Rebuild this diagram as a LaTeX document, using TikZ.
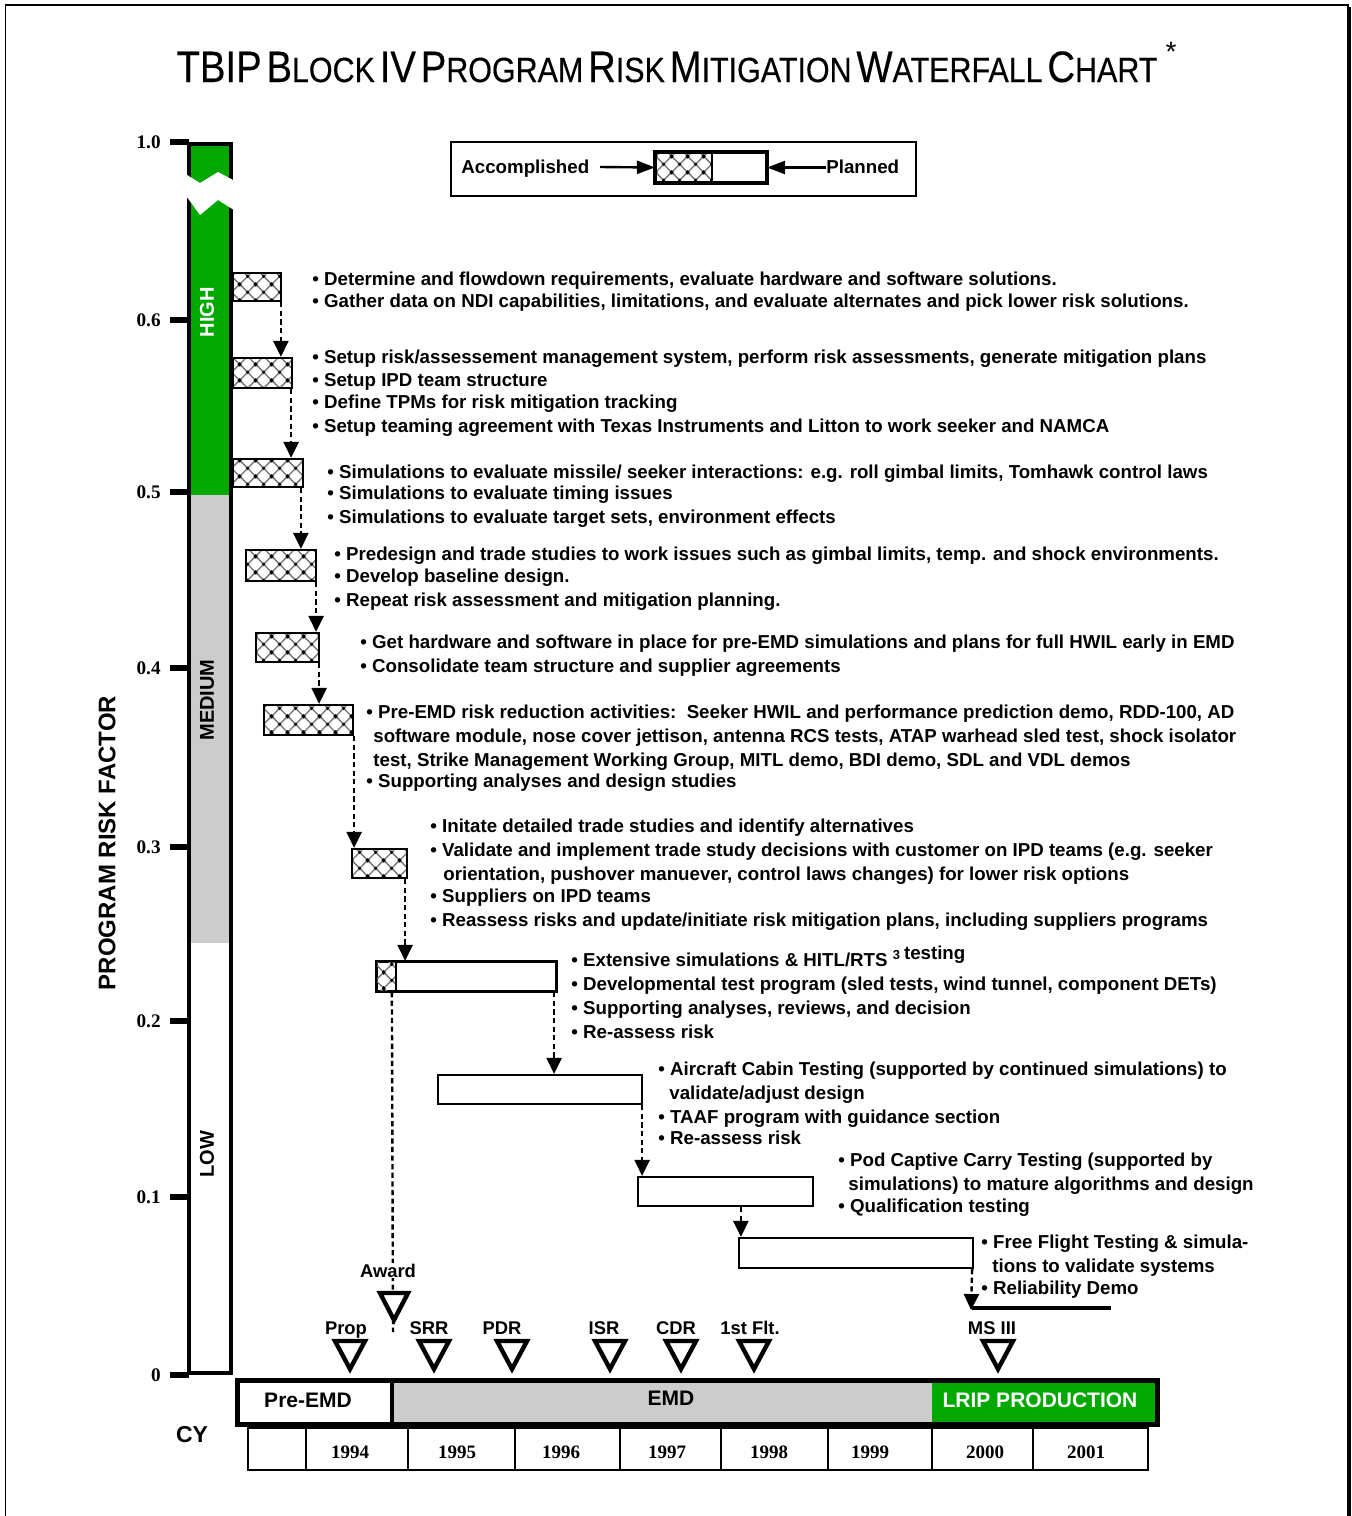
\documentclass[tikz,border=0pt]{standalone}
\usepackage{fontspec}
\setmainfont{Liberation Sans}
\newfontfamily\numfont{Liberation Serif}
\newfontfamily\headfont[FakeStretch=0.87,FakeBold=0.3]{Liberation Sans}
\usetikzlibrary{arrows.meta,patterns.meta}

\definecolor{riskgreen}{RGB}{0,168,0}
\definecolor{riskgray}{RGB}{204,204,204}

% diagonal diamond hatch used for accomplished work
\tikzdeclarepattern{
  name=diamondhatch,
  type=colored,
  bottom left={(0pt,0pt)},
  top right={(8pt,8pt)},
  tile size={(8pt,8pt)},
  code={
    \draw[black!55, line width=0.7pt] (0pt,0pt) -- (8pt,8pt) (0pt,8pt) -- (8pt,0pt);
    \fill[black] (4pt,4pt) circle (0.9pt);
    \fill[black] (0pt,0pt) circle (0.9pt) (8pt,0pt) circle (0.9pt)
                 (0pt,8pt) circle (0.9pt) (8pt,8pt) circle (0.9pt);
  }
}

% small-capital word for the heading
\newcommand{\hsc}[2]{{\fontsize{22}{22}\selectfont #1}{\fontsize{17.5}{17.5}\selectfont #2}}

% waterfall box: name, x1, y1, x2, y2, style
\newcommand{\wfbox}[6]{%
  \node[#6, minimum width={(#4-#2)*0.5pt}, minimum height={(#5-#3)*0.5pt}]
    (#1) at ({(#2+#4)/2},{(#3+#5)/2}) {};}

% one line of activity text: name, x, baseline y, text
\newcommand{\tline}[4]{\node[body] (#1) at (#2,#3) {#4};}

% milestone: label x, triangle x, name, label
\newcommand{\mile}[4]{%
  \node[mslabel] (#3) at (#1,1334) {#4};
  \draw[mtri] (#2-15,1341) -- (#2+15,1341) -- (#2,1369) -- cycle;}

\begin{document}
\begin{tikzpicture}[x=0.5pt,y=-0.5pt,
  body/.style={font=\bfseries\fontsize{9.35}{11}\selectfont, inner sep=0pt, anchor=base west},
  mslabel/.style={font=\bfseries\fontsize{9.2}{11}\selectfont, inner sep=0.5pt, anchor=base},
  mtri/.style={line width=2.2pt, line join=miter, fill=white},
  hbox/.style={draw, line width=1.1pt, pattern=diamondhatch},
  pbox/.style={draw, line width=1.1pt, fill=white},
  flow/.style={line width=1.2pt, dash pattern=on 2.6pt off 1.7pt,
               -{Triangle[width=7.5pt,length=8pt]}},
  axnum/.style={font=\numfont\bfseries\fontsize{9.6}{11}\selectfont, inner sep=0pt, anchor=east},
  year/.style={font=\numfont\bfseries\fontsize{9.5}{11}\selectfont, inner sep=0pt},
  phase/.style={font=\bfseries\fontsize{10.5}{12}\selectfont, inner sep=0pt},
  legarrow/.style={line width=1.2pt, -{Triangle[width=6.5pt,length=9pt]}}
]
\useasboundingbox (0,0) rectangle (1351,1516);

% page frame with shadowed right edge
\draw[line width=0.8pt] (5.5,1516) -- (5.5,5) -- (1348,5) -- (1348,1516);
\draw[line width=0.8pt] (1350,7) -- (1350,1516);

% heading
\node[font=\headfont, anchor=base, inner sep=0pt] (title) at (667,82)
  {\hsc{TBIP}{} \hsc{B}{LOCK} \hsc{IV}{} \hsc{P}{ROGRAM} \hsc{R}{ISK} \hsc{M}{ITIGATION} \hsc{W}{ATERFALL} \hsc{C}{HART}};
\node[font=\fontsize{14}{14}\selectfont, inner sep=0pt] (star) at (1171,52) {*};

% legend
\node[draw, line width=1pt, minimum width=232.5pt, minimum height=27pt] (legend) at (683.5,169) {};
\wfbox{lg}{656}{153}{766}{182}{pbox}
\fill[pattern=diamondhatch] (lg.north west) rectangle ([xshift=28.5pt]lg.south west);
\draw[line width=1.3pt] ([xshift=28.5pt]lg.north west) -- ([xshift=28.5pt]lg.south west);
\draw[line width=1.8pt] (lg.north west) rectangle (lg.south east);
\tline{acc}{461}{173}{Accomplished}
\tline{plan}{826}{173}{Planned}
\draw[legarrow] (600,167) -- (lg.west);
\draw[legarrow] (plan.west |- lg.east) -- (lg.east);

% risk factor scale bar
\fill[riskgreen] (189,144) rectangle (231,495);
\fill[riskgray] (189,495) rectangle (231,943);
\draw[line width=2.2pt] (189,144) rectangle (231,1373);
\fill[white] (184,173) -- (200,183) -- (218,172) -- (237,182) -- (237,212)
  -- (218,200) -- (200,215) -- (184,193) -- cycle;
\foreach \yy/\lab [count=\i] in {142/1.0, 320/0.6, 492/0.5, 668/0.4, 847/0.3, 1021/0.2, 1197/0.1, 1375/0}{
  \draw[line width=2.6pt] (170,\yy) -- (189,\yy);
  \node[axnum] (ax\i) at (161,\yy) {\lab};
}
\node[rotate=90, font=\bfseries\fontsize{10}{12}\selectfont, text=white, inner sep=0pt] (high) at (207,312) {HIGH};
\node[rotate=90, font=\bfseries\fontsize{10}{12}\selectfont, inner sep=0pt] (medium) at (207,700) {MEDIUM};
\node[rotate=90, font=\bfseries\fontsize{10}{12}\selectfont, inner sep=0pt] (low) at (207,1154) {LOW};
\node[rotate=90, font=\bfseries\fontsize{12}{14}\selectfont, inner sep=0pt] (axis) at (107,843) {PROGRAM RISK FACTOR};

% waterfall steps
\wfbox{b1}{233}{273}{281}{301}{hbox}
\wfbox{b2}{233}{358}{292}{388}{hbox}
\wfbox{b3}{233}{459}{303}{487}{hbox}
\wfbox{b4}{246}{550}{316}{581}{hbox}
\wfbox{b5}{256}{633}{319}{662}{hbox}
\wfbox{b6}{264}{705}{353}{735}{hbox}
\wfbox{b7}{352}{849}{407}{878}{hbox}
\wfbox{b8}{377}{962}{556}{991}{pbox}
\fill[pattern=diamondhatch] (b8.north west) rectangle ([xshift=10pt]b8.south west);
\draw[line width=1.1pt] ([xshift=10pt]b8.north west) -- ([xshift=10pt]b8.south west);
\draw[line width=1.1pt] (b8.north west) rectangle (b8.south east);
\wfbox{b9}{438}{1075}{642}{1104}{pbox}
\wfbox{b10}{638}{1177}{813}{1206}{pbox}
\wfbox{b11}{739}{1238}{973}{1268}{pbox}

\draw[flow] ([xshift=-0.6pt]b1.south east) -- ([xshift=-0.6pt]b1.south east |- b2.north);
\draw[flow] ([xshift=-1pt]b2.south east) -- ([xshift=-1pt]b2.south east |- b3.north);
\draw[flow] ([xshift=-1.6pt]b3.south east) -- ([xshift=-1.6pt]b3.south east |- b4.north);
\draw[flow] ([xshift=-0.5pt]b4.south east) -- ([xshift=-0.5pt]b4.south east |- b5.north);
\draw[flow] ([xshift=-0.5pt]b5.south east) -- ([xshift=-0.5pt]b5.south east |- b6.north);
\draw[flow] (b6.south east) -- (b6.south east |- b7.north);
\draw[flow] ([xshift=-1.5pt]b7.south east) -- ([xshift=-1.5pt]b7.south east |- b8.north);
\draw[flow] ([xshift=-1.5pt]b8.south east) -- ([xshift=-1.5pt]b8.south east |- b9.north);
\draw[flow] ([xshift=-0.5pt]b9.south east) -- ([xshift=-0.5pt]b9.south east |- b10.north);
\coordinate (b11in) at ([xshift=1.5pt]b11.north west);
\draw[flow] (b10.south -| b11in) -- (b11in);
\coordinate (endL) at (971,1310);
\coordinate (endR) at (1111,1308);
\draw[flow] ([xshift=-1pt]b11.south east) -- (endL);
\draw[line width=2.2pt] (972,1308) -- (endR);

% award line from the first EMD step
\coordinate (awardend) at (393,1332);
\draw[line width=1.2pt, dash pattern=on 2.6pt off 1.7pt] ([xshift=8pt]b8.south west) -- (awardend);
\node[mslabel, fill=white] (award) at (388,1277) {Award};
\draw[mtri] (380,1293) -- (408,1293) -- (394,1320) -- cycle;

% activity descriptions
\tline{t1a}{312}{285}{• Determine and flowdown requirements, evaluate hardware and software solutions.}
\tline{t1b}{312}{307}{• Gather data on NDI capabilities, limitations, and evaluate alternates and pick lower risk solutions.}
\tline{t2a}{312}{363}{• Setup risk/assessement management system, perform risk assessments, generate mitigation plans}
\tline{t2b}{312}{386}{• Setup IPD team structure}
\tline{t2c}{312}{408}{• Define TPMs for risk mitigation tracking}
\tline{t2d}{312}{432}{• Setup teaming agreement with Texas Instruments and Litton to work seeker and NAMCA}
\tline{t3a}{327}{478}{• Simulations to evaluate missile/ seeker interactions: e.g. roll gimbal limits, Tomhawk control laws}
\tline{t3b}{327}{499}{• Simulations to evaluate timing issues}
\tline{t3c}{327}{523}{• Simulations to evaluate target sets, environment effects}
\tline{t4a}{334}{560}{• Predesign and trade studies to work issues such as gimbal limits, temp. and shock environments.}
\tline{t4b}{334}{582}{• Develop baseline design.}
\tline{t4c}{334}{606}{• Repeat risk assessment and mitigation planning.}
\tline{t5a}{360}{648}{• Get hardware and software in place for pre-EMD simulations and plans for full HWIL early in EMD}
\tline{t5b}{360}{672}{• Consolidate team structure and supplier agreements}
\tline{t6a}{366}{718}{• Pre-EMD risk reduction activities:\ \ Seeker HWIL and performance prediction demo, RDD-100, AD}
\tline{t6b}{373}{742}{software module, nose cover jettison, antenna RCS tests, ATAP warhead sled test, shock isolator}
\tline{t6c}{373}{766}{test, Strike Management Working Group, MITL demo, BDI demo, SDL and VDL demos}
\tline{t6d}{366}{787}{• Supporting analyses and design studies}
\tline{t7a}{430}{832}{• Initate detailed trade studies and identify alternatives}
\tline{t7b}{430}{856}{• Validate and implement trade study decisions with customer on IPD teams (e.g. seeker}
\tline{t7c}{443}{880}{orientation, pushover manuever, control laws changes) for lower risk options}
\tline{t7d}{430}{902}{• Suppliers on IPD teams}
\tline{t7e}{430}{926}{• Reassess risks and update/initiate risk mitigation plans, including suppliers programs}
\tline{t8a}{571}{966}{• Extensive simulations \& HITL/RTS \raisebox{3.5pt}{\fontsize{6.5}{7}\selectfont 3}\hspace{2pt}\raisebox{3.5pt}{testing}}
\tline{t8b}{571}{990}{• Developmental test program (sled tests, wind tunnel, component DETs)}
\tline{t8c}{571}{1014}{• Supporting analyses, reviews, and decision}
\tline{t8d}{571}{1038}{• Re-assess risk}
\tline{t9a}{658}{1075}{• Aircraft Cabin Testing (supported by continued simulations) to}
\tline{t9b}{669}{1099}{validate/adjust design}
\tline{t9c}{658}{1123}{• TAAF program with guidance section}
\tline{t9d}{658}{1144}{• Re-assess risk}
\tline{t10a}{838}{1166}{• Pod Captive Carry Testing (supported by}
\tline{t10b}{848}{1190}{simulations) to mature algorithms and design}
\tline{t10c}{838}{1212}{• Qualification testing}
\tline{t11a}{981}{1248}{• Free Flight Testing \& simula-}
\tline{t11b}{992}{1272}{tions to validate systems}
\tline{t11c}{981}{1294}{• Reliability Demo}

% milestones
\mile{346}{350}{prop}{Prop}
\mile{429}{434}{srr}{SRR}
\mile{502}{512}{pdr}{PDR}
\mile{604}{610}{isr}{ISR}
\mile{676}{681}{cdr}{CDR}
\mile{750}{754}{flt}{1st Flt.}
\mile{992}{998}{ms3}{MS III}

% program phases
\fill[white] (237,1380) rectangle (392,1425);
\fill[riskgray] (392,1380) rectangle (932,1425);
\fill[riskgreen] (932,1380) rectangle (1158,1425);
\draw[line width=2.6pt] (237.5,1380.5) rectangle (1157.5,1424.5);
\draw[line width=2.2pt] (392,1380) -- (392,1425);
\node[phase] (pre) at (308,1400) {Pre-EMD};
\node[phase] (emd) at (671,1398) {EMD};
\node[phase, text=white] (lrip) at (1040,1400) {LRIP PRODUCTION};

% calendar years
\node[font=\bfseries\fontsize{11.5}{13}\selectfont, inner sep=0pt] (cy) at (192,1435) {CY};
\draw[line width=1pt] (248,1428) rectangle (1148,1470);
\foreach \x in {306,408,515,620,721,828,932,1033}
  \draw[line width=1pt] (\x,1428) -- (\x,1470);
\foreach \x/\yr in {350/1994, 457/1995, 561/1996, 667/1997, 769/1998, 870/1999, 985/2000, 1086/2001}
  \node[year] (y\yr) at (\x,1452) {\yr};
\end{tikzpicture}
\end{document}
